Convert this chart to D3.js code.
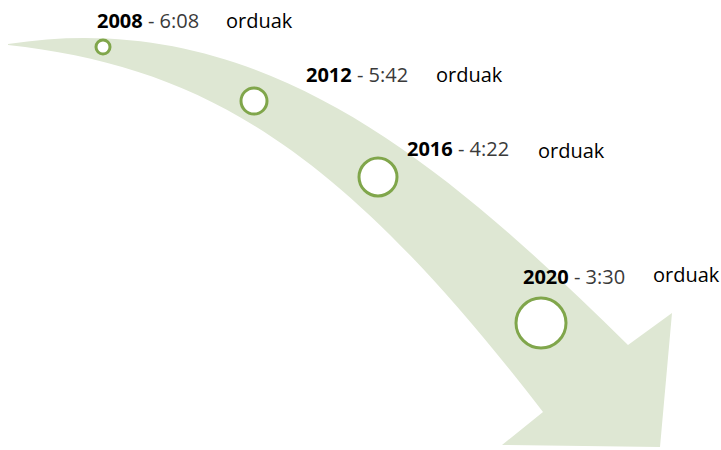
<!DOCTYPE html>
<html>
<head>
<meta charset="utf-8">
<script src="https://cdn.jsdelivr.net/npm/d3@7/dist/d3.min.js"></script>
<style>
    body { margin: 0; background: #ffffff; }
    svg { display: block; }
    text { font-family: "Open Sans", "Noto Sans", sans-serif; font-size: 20px; }
</style>
</head>
<body>
<div id="chart"></div>
<script>
// data
var Years = [2008, 2012, 2016, 2020];
var Hours = ["6:08", "5:42", "4:22", "3:30"];
var UnitLabel = "orduak";

// layout (where each stop sits on the arrow)
var StopX = [103, 254, 378, 541];
var StopY = [47, 101, 177, 323];
var LabelDX = [-6, 52, 29, -18];
var LabelDY = [-19, -19, -21, -39];
var UnitX = [226, 436, 538, 653];
var UnitDY = [0, 0, 2, -2];

var Width = 721, Height = 450;

var svg = d3.select("#chart").append("svg")
    .attr("width", Width)
    .attr("height", Height);

// scales
var xStop = d3.scaleLinear().domain(Years).range(StopX);
var yStop = d3.scaleLinear().domain(Years).range(StopY);
var rStop = d3.scaleLinear().domain([2008, 2020]).range([7, 25]);

// curved arrow
var arrow = d3.path();
arrow.moveTo(8, 44);
arrow.bezierCurveTo(258, 5, 440, 160, 628, 345);
arrow.lineTo(672, 313);
arrow.lineTo(660, 447);
arrow.lineTo(502, 445);
arrow.lineTo(543, 412);
arrow.bezierCurveTo(343, 152, 208, 67, 8, 45);
arrow.closePath();

svg.append("path")
    .attr("d", arrow.toString())
    .style("fill", "#dee7d3");

// stops
var stops = svg.selectAll(".stop")
    .data(Years)
    .enter()
    .append("g")
    .attr("class", "stop");

stops.append("circle")
    .attr("cx", function(d){ return xStop(d); })
    .attr("cy", function(d){ return yStop(d); })
    .attr("r", function(d){ return rStop(d); })
    .style("fill", "#ffffff")
    .style("stroke", "#80a64b")
    .style("stroke-width", 3);

var label = stops.append("text")
    .attr("x", function(d,i){ return xStop(d) + LabelDX[i]; })
    .attr("y", function(d,i){ return yStop(d) + LabelDY[i]; });

label.append("tspan")
    .style("font-weight", "bold")
    .style("fill", "#000000")
    .text(function(d){ return d; });

label.append("tspan")
    .style("fill", "#3a3a3a")
    .text(function(d,i){ return " - " + Hours[i]; });

stops.append("text")
    .attr("x", function(d,i){ return UnitX[i]; })
    .attr("y", function(d,i){ return yStop(d) + LabelDY[i] + UnitDY[i]; })
    .style("fill", "#000000")
    .text(UnitLabel);
</script>
</body>
</html>
